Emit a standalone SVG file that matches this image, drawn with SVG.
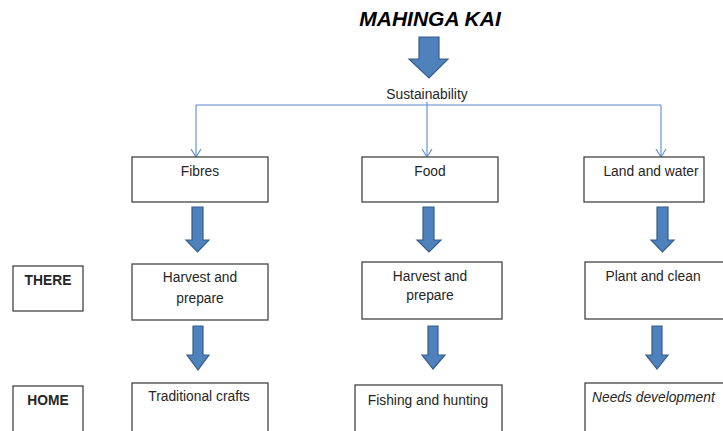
<svg xmlns="http://www.w3.org/2000/svg" width="723" height="431" viewBox="0 0 723 431">
<style>
.box{fill:#fff;stroke:#444;stroke-width:1.3}
.t{font-family:"Liberation Sans",Arial,sans-serif;font-size:13.8px;fill:#262626;text-anchor:middle}
.b{font-weight:bold}
.i{font-style:italic;text-anchor:start}
.arr{fill:#4f81bd;stroke:#385d8a;stroke-width:1.2}
.con{fill:none;stroke:#5b8bd0;stroke-width:1.1}
</style>
<defs>
<marker id="v" markerWidth="10" markerHeight="12" refX="9" refY="6" orient="auto" markerUnits="userSpaceOnUse" viewBox="0 0 10 12">
<path d="M1,1 L9,6 L1,11" fill="none" stroke="#5b8bd0" stroke-width="1.1"/>
</marker>
</defs>
<text x="430" y="26" font-family="'Liberation Sans',Arial,sans-serif" font-size="21" font-weight="bold" font-style="italic" text-anchor="middle" fill="#000">MAHINGA KAI</text>
<g id="arrow-top"><path class="arr" d="M419,37 H439 V59 H448 L429,78 L409,59 H419 Z"/></g>
<text class="t" x="427" y="99">Sustainability</text>
<g id="connectors">
<path class="con" d="M196,105 H661"/>
<path class="con" d="M196,105 V157" marker-end="url(#v)"/>
<path class="con" d="M427,102 V157" marker-end="url(#v)"/>
<path class="con" d="M661,105 V157" marker-end="url(#v)"/>
<path class="arr" d="M192,207 H203 V240 H209 L197.5,252 L186,240 H192 Z"/>
<path class="arr" d="M423,207 H434 V240 H441 L429,252 L417,240 H423 Z"/>
<path class="arr" d="M657,207 H668 V240 H674 L662.5,252 L651,240 H657 Z"/>
<path class="arr" d="M193,326 H203 V355 H209 L198,370 L187,355 H193 Z"/>
<path class="arr" d="M428,326 H438 V355 H445 L433,369 L422,355 H428 Z"/>
<path class="arr" d="M652,326 H662 V355 H668 L657,369 L646,355 H652 Z"/>
</g>
<g id="fibres"><rect class="box" x="132" y="157" width="136" height="45"/><text class="t" x="200" y="176">Fibres</text></g>
<g id="food"><rect class="box" x="362" y="157" width="136" height="45"/><text class="t" x="430" y="176">Food</text></g>
<g id="land"><rect class="box" x="584" y="157" width="120" height="45"/><text class="t" x="651" y="176">Land and water</text></g>
<g id="there"><rect class="box" x="13" y="266" width="70" height="45"/><text class="t b" x="48" y="285">THERE</text></g>
<g id="harvest1"><rect class="box" x="132" y="264" width="136" height="56"/><text class="t" x="200" y="282">Harvest and</text><text class="t" x="200" y="303">prepare</text></g>
<g id="harvest2"><rect class="box" x="362" y="262" width="140" height="57"/><text class="t" x="430" y="281">Harvest and</text><text class="t" x="430" y="300">prepare</text></g>
<g id="plant"><rect class="box" x="585" y="262" width="145" height="57"/><text class="t" x="653" y="281">Plant and clean</text></g>
<g id="home"><rect class="box" x="13" y="386" width="70" height="60"/><text class="t b" x="48" y="405">HOME</text></g>
<g id="crafts"><rect class="box" x="132" y="383" width="136" height="60"/><text class="t" x="199" y="401">Traditional crafts</text></g>
<g id="fishing"><rect class="box" x="355" y="385" width="147" height="60"/><text class="t" x="428" y="405">Fishing and hunting</text></g>
<g id="needs"><rect class="box" x="585" y="383" width="145" height="60"/><text class="t i" x="592" y="402">Needs development</text></g>
</svg>
